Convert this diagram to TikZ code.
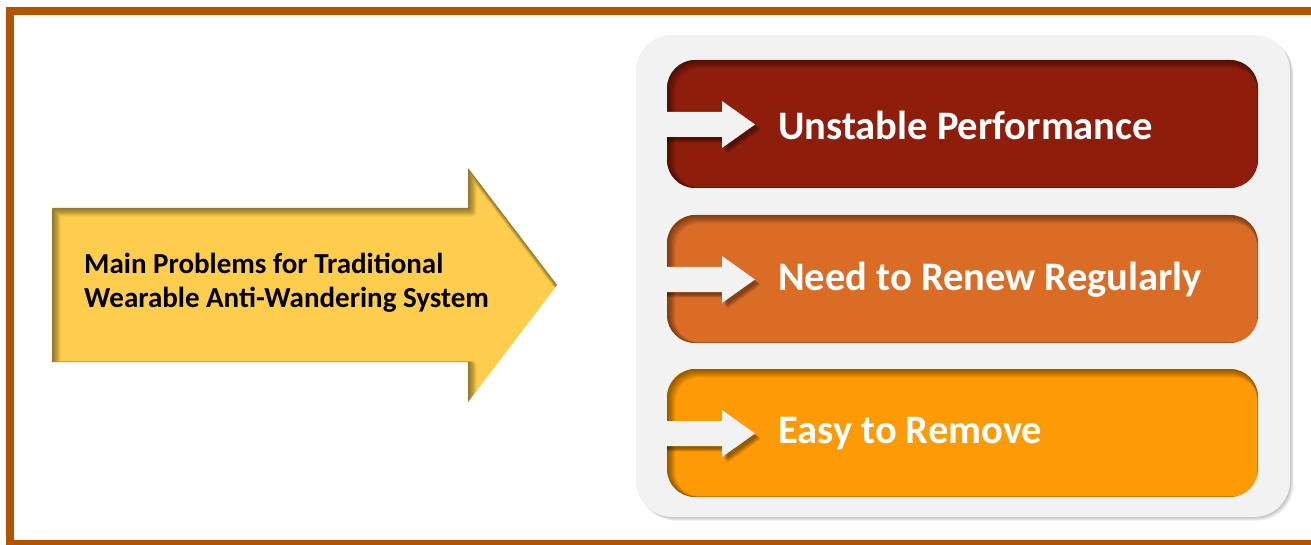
\documentclass[tikz,border=0pt]{standalone}
\usepackage{fontspec}
\setmainfont{Carlito}
\definecolor{framec}{RGB}{180,84,0}
\definecolor{panelc}{RGB}{242,242,242}
\definecolor{boxa}{RGB}{142,29,11}
\definecolor{boxb}{RGB}{219,108,38}
\definecolor{boxc}{RGB}{254,154,5}
\definecolor{yel}{RGB}{254,205,77}
\tikzset{
  boxtext/.style={anchor=west, text=white, inner sep=0pt, font=\fontsize{40.5}{42}\selectfont\bfseries},
  maintext/.style={anchor=west, align=left, inner sep=0pt, text=black, font=\fontsize{29}{34}\selectfont\bfseries},
}
\begin{document}
\begin{tikzpicture}[x=1pt,y=-1pt]
\useasboundingbox (0,0) rectangle (1311,545);
\fill[white] (0,0) rectangle (1311,545);
\begin{scope}
  \clip (0,0) rectangle (1311,545);
  \draw[framec, line width=8.5pt] (10,11.25) rectangle (1330,544.5);
\end{scope}

% big yellow arrow
\def\yarrow{(52,208) -- (468,208) -- (468,168) -- (557,285) -- (468,402) -- (468,362) -- (52,362) -- cycle}
\fill[yel] \yarrow;
\begin{scope}
  \clip \yarrow;
  \foreach \k in {1,...,7}
    \draw[black, opacity=0.07, line width=\k*1.3pt, line join=round, shift={(\k*0.55,\k*0.55)}] \yarrow;
\end{scope}
\node[maintext] (main) at (84,283) {Main Problems for Traditional\\Wearable Anti-Wandering System};

% panel with drop shadow
\foreach \k in {1,...,4}
  \fill[black, opacity=0.06, rounded corners=36, shift={(\k*0.9,\k*0.9)}] (636,35) rectangle (1290,517);
\fill[panelc, rounded corners=36] (636,35) rectangle (1290,517);

% boxes
\foreach \t/\col in {60/boxa, 215/boxb, 369/boxc} {
  \pgfmathsetmacro\cy{\t+64.5}
  \begin{scope}
    \clip[rounded corners=28] (667,\t) rectangle (1258,\t+128);
    \fill[\col] (667,\t) rectangle (1258,\t+128);
    \foreach \k in {1,...,7}
      \draw[black, opacity=0.07, line width=\k*1.3pt, rounded corners=28, shift={(\k*0.55,\k*0.55)}] (667,\t) rectangle (1258,\t+128);
    % shadow of the white arrow
    \foreach \k in {1,...,6}
      \fill[black, opacity=0.08, shift={(2+\k*0.6,2+\k*0.6)}]
        (660,\cy-12.5) -- (722,\cy-12.5) -- (722,\cy-23.5) -- (755,\cy) -- (722,\cy+23.5) -- (722,\cy+12.5) -- (660,\cy+12.5) -- cycle;
  \end{scope}
  \fill[panelc] (660,\cy-12.5) -- (722,\cy-12.5) -- (722,\cy-23.5) -- (755,\cy) -- (722,\cy+23.5) -- (722,\cy+12.5) -- (660,\cy+12.5) -- cycle;
}
\node[boxtext] (t1) at (778,125) {Unstable Performance};
\node[boxtext] (t2) at (778,280) {Need to Renew Regularly};
\node[boxtext] (t3) at (778,434) {Easy to Remove};
\end{tikzpicture}
\end{document}
